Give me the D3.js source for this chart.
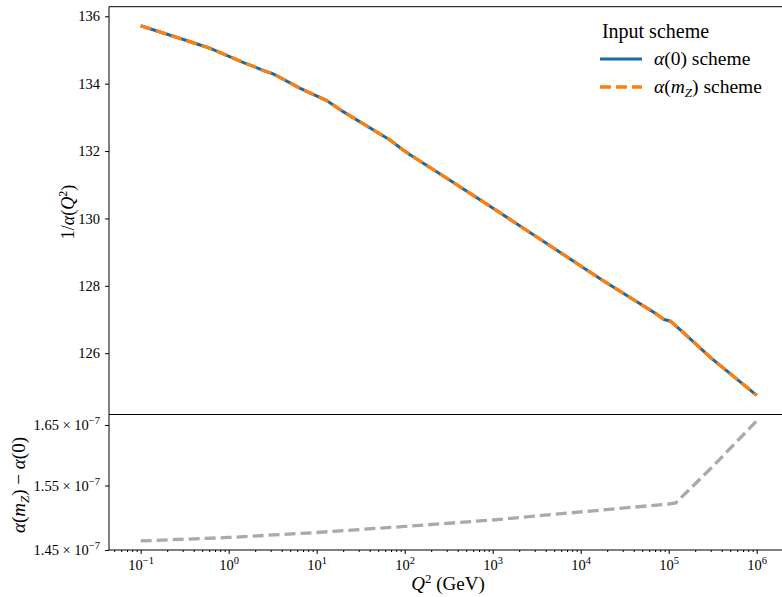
<!DOCTYPE html>
<html>
<head>
<meta charset="utf-8">
<script src="https://cdn.jsdelivr.net/npm/d3@7"></script>
<style>
  body { margin: 0; background: #fff; }
  svg { font-family: "Liberation Serif", "DejaVu Serif", serif; }
</style>
</head>
<body>
<div id="chart-area"></div>
<script>
// Q^2 in GeV^2 and 1/alpha(Q^2)
const q2 = [0.1, 0.26, 0.3, 0.6, 1.5, 2.5, 3.2, 3.5, 6.5, 13, 20, 68, 95, 115, 320, 1000, 1e4, 1.86e4, 6.9e4, 8.9e4, 1.05e5, 1.48e5, 3.02e5, 1e6]
const invAlpha0 = [135.72, 135.37, 135.32, 135.06, 134.62, 134.39, 134.29, 134.24, 133.86, 133.50, 133.17, 132.33, 132.04, 131.89, 131.15, 130.31, 128.59, 128.13, 127.20, 127.00, 126.95, 126.60, 125.86, 124.75]
const invAlphaMz = invAlpha0.slice()

// lower panel: alpha(mZ) - alpha(0)
const q2Diff = [0.1, 1, 10, 100, 1000, 1e4, 1e5, 1.2e5, 3.2e5, 1e6]
const diff = [1.4636e-7, 1.4689e-7, 1.4765e-7, 1.4857e-7, 1.4957e-7, 1.5082e-7, 1.5206e-7, 1.5222e-7, 1.5814e-7, 1.657e-7]

const xTicks = [1e-1, 1e0, 1e1, 1e2, 1e3, 1e4, 1e5, 1e6]
const xExp = ["\u22121", "0", "1", "2", "3", "4", "5", "6"]
const topTicks = [126, 128, 130, 132, 134, 136]
const lowTicks = [1.45e-7, 1.55e-7, 1.65e-7]
const lowTickMant = ["1.45", "1.55", "1.65"]

const W = 782, H = 597
const left = 109, right = 787.5

const svg = d3.select("#chart-area").append("svg")
	.attr("width", W)
	.attr("height", H)

const x = d3.scaleLog().domain([Math.pow(10, -1.36), Math.pow(10, 6.35)]).range([left, right])
const yTop = d3.scaleLinear().domain([124.18, 136.285]).range([414.5, 6.7])
const yLow = d3.scaleLog().domain([1.45e-7, 1.668e-7]).range([550, 414.5])

// frame lines
svg.append("line").attr("x1", left).attr("x2", W).attr("y1", 6.7).attr("y2", 6.7)
	.attr("stroke", "#000").attr("stroke-width", 1)
svg.append("line").attr("x1", left).attr("x2", W).attr("y1", 414.5).attr("y2", 414.5)
	.attr("stroke", "#000").attr("stroke-width", 1)

// top y axis
const gTop = svg.append("g").attr("transform", `translate(${left},0)`)
	.call(d3.axisLeft(yTop).tickValues(topTicks).tickSize(4).tickPadding(5).tickFormat(d3.format("d")))
gTop.select(".domain").remove()
gTop.append("line").attr("x1", 0).attr("x2", 0).attr("y1", 6.7).attr("y2", 414.5).attr("stroke", "#000")
gTop.selectAll(".tick text").attr("font-size", 14.5).attr("font-family", "Liberation Serif").attr("fill", "#000")

// lower y axis
const gLow = svg.append("g").attr("transform", `translate(${left},0)`)
	.call(d3.axisLeft(yLow).tickValues(lowTicks).tickSize(4).tickPadding(5).tickFormat(""))
gLow.select(".domain").remove()
gLow.append("line").attr("x1", 0).attr("x2", 0).attr("y1", 414.5).attr("y2", 550).attr("stroke", "#000")
gLow.selectAll(".tick text").each(function(d, i) {
	const t = d3.select(this).attr("font-size", 14.5).attr("font-family", "Liberation Serif").attr("fill", "#000")
	t.append("tspan").text(lowTickMant[i] + " \u00d7 10")
	t.append("tspan").attr("dy", -6).attr("font-size", 10.5).text("\u22127")
})

// x axis (bottom of lower panel)
const minor = []
for (let e = -2; e <= 6; e++) for (let m = 2; m <= 9; m++) {
	const v = m * Math.pow(10, e)
	if (v > x.domain()[0] && v < x.domain()[1]) minor.push(v)
}
const gX = svg.append("g").attr("transform", "translate(0,550)")
	.call(d3.axisBottom(x).tickValues(xTicks).tickSize(4).tickPadding(6).tickFormat(""))
gX.select(".domain").remove()
gX.append("line").attr("x1", left).attr("x2", W).attr("y1", 0).attr("y2", 0).attr("stroke", "#000")
gX.selectAll(".tick text").each(function(d, i) {
	const t = d3.select(this).attr("font-size", 14.5).attr("font-family", "Liberation Serif").attr("fill", "#000")
	t.append("tspan").text("10")
	t.append("tspan").attr("dy", -6).attr("font-size", 10.5).text(xExp[i])
})
svg.append("g").attr("transform", "translate(0,550)")
	.call(d3.axisBottom(x).tickValues(minor).tickSize(2).tickFormat(""))
	.select(".domain").remove()

// curves
const line = d3.line().x(d => x(d[0])).y(d => yTop(d[1]))
svg.append("path")
	.datum(q2.map((q, i) => [q, invAlpha0[i]]))
	.attr("d", line)
	.attr("fill", "none")
	.attr("stroke", "#1a6aa3")
	.attr("stroke-width", 3)
svg.append("path")
	.datum(q2.map((q, i) => [q, invAlphaMz[i]]))
	.attr("d", line)
	.attr("fill", "none")
	.attr("stroke", "#ff7f0e")
	.attr("stroke-width", 3.3)
	.attr("stroke-dasharray", "11,5")

const lineLow = d3.line().x(d => x(d[0])).y(d => yLow(d[1]))
svg.append("path")
	.datum(q2Diff.map((q, i) => [q, diff[i]]))
	.attr("d", lineLow)
	.attr("fill", "none")
	.attr("stroke", "#aaaaaa")
	.attr("stroke-width", 3.3)
	.attr("stroke-dasharray", "11,5")

// axis labels
svg.append("text")
	.attr("transform", "translate(74,212) rotate(-90)")
	.attr("text-anchor", "middle")
	.attr("font-size", 18)
	.html('1/<tspan font-style="italic">\u03b1</tspan>(<tspan font-style="italic">Q</tspan><tspan dy="-7" font-size="12">2</tspan><tspan dy="7">)</tspan>')

svg.append("text")
	.attr("transform", "translate(25,485) rotate(-90)")
	.attr("text-anchor", "middle")
	.attr("font-size", 19)
	.html('<tspan font-style="italic">\u03b1</tspan>(<tspan font-style="italic">m</tspan><tspan font-style="italic" dy="4" font-size="13">Z</tspan><tspan dy="-4">) \u2212 </tspan><tspan font-style="italic">\u03b1</tspan>(0)')

svg.append("text")
	.attr("x", 448)
	.attr("y", 590)
	.attr("text-anchor", "middle")
	.attr("font-size", 19)
	.html('<tspan font-style="italic">Q</tspan><tspan dy="-7" font-size="13">2</tspan><tspan dy="7"> (GeV)</tspan>')

// legend
const lg = svg.append("g")
lg.append("text").attr("x", 655.5).attr("y", 38).attr("text-anchor", "middle")
	.attr("font-size", 20).text("Input scheme")
lg.append("line").attr("x1", 600).attr("x2", 642).attr("y1", 59).attr("y2", 59)
	.attr("stroke", "#1a6aa3").attr("stroke-width", 3)
lg.append("line").attr("x1", 600).attr("x2", 642).attr("y1", 87).attr("y2", 87)
	.attr("stroke", "#ff7f0e").attr("stroke-width", 3.3).attr("stroke-dasharray", "11,5")
lg.append("text").attr("x", 654).attr("y", 65).attr("font-size", 19.5)
	.html('<tspan font-style="italic">\u03b1</tspan>(0) scheme')
lg.append("text").attr("x", 654).attr("y", 93).attr("font-size", 19.5)
	.html('<tspan font-style="italic">\u03b1</tspan>(<tspan font-style="italic">m</tspan><tspan font-style="italic" dy="4" font-size="13">Z</tspan><tspan dy="-4">) scheme</tspan>')
</script>
</body>
</html>
